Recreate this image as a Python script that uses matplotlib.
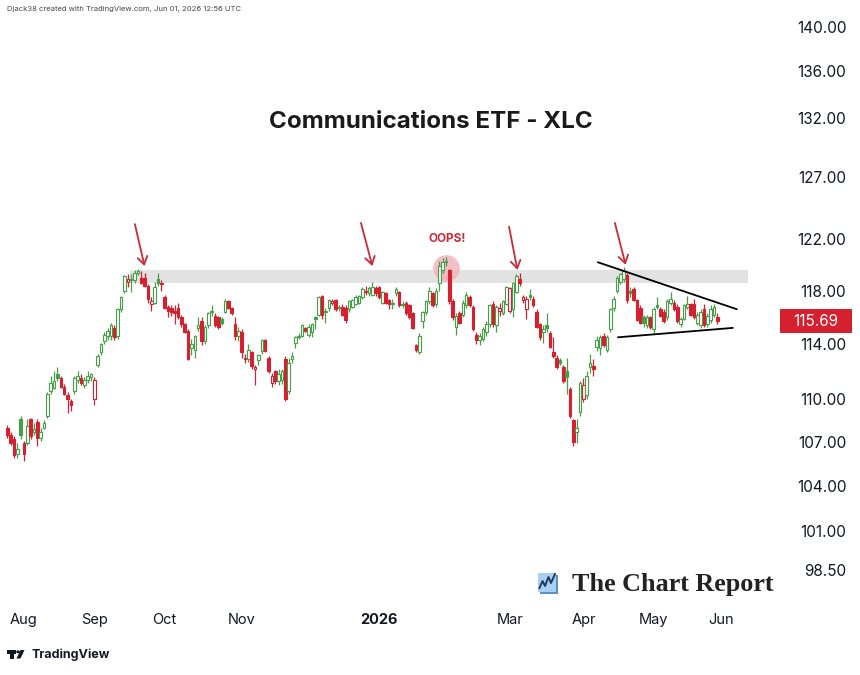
import numpy as np
import matplotlib
matplotlib.use("Agg")
import matplotlib.pyplot as plt
from matplotlib.patches import Rectangle, Polygon, Circle
from matplotlib.ticker import NullLocator, FixedLocator
from matplotlib.lines import Line2D

plt.rcParams['font.family'] = ['Inter', 'DejaVu Sans']

# ---------------- data (trading-day index, Aug 1 2025 = 0) ----------------
first_index = -5

opens = [
    108.0, 107.5, 107.2, 106.2, 108.6,
    106.9, 106.9, 108.6, 107.7, 108.4, 107.3, 108.0, 108.8, 110.6, 110.8, 111.8, 111.5, 110.9, 110.3, 109.9, 110.6, 111.4, 111.5, 111.0, 111.4, 111.6,
    110.0, 112.5, 113.4, 114.2, 114.6, 114.6, 115.2, 114.6, 116.6, 118.0, 118.7, 118.8, 118.8, 119.4, 119.0, 119.0, 118.4, 117.0, 117.1, 118.9, 118.6,
    117.5, 116.8, 116.7, 116.5, 116.7, 116.0, 115.5, 115.0, 113.7, 113.6, 115.2, 115.7, 114.2, 115.4, 116.4, 116.1, 116.0, 115.9, 116.4, 117.2, 116.7, 115.5, 114.6,
    114.9, 112.9, 112.9, 113.4, 112.2, 112.8, 113.5, 114.3, 113.0, 111.2, 112.0, 111.3, 111.4, 112.9, 110.6, 112.9, 114.1, 114.5, 114.6,
    115.2, 114.7, 114.9, 116.0, 116.2, 117.6, 116.4, 116.7, 117.1, 117.3, 116.7, 116.8, 116.7, 116.6, 116.8, 117.0, 117.1, 117.5, 117.9, 117.8, 117.7, 118.2,
    118.3, 117.1, 117.8, 117.3, 117.1, 117.8, 117.9, 117.0, 117.1, 116.9, 116.3, 113.9, 113.4, 115.7, 116.4, 117.2, 117.8, 117.0, 118.6, 119.6,
    120.2, 119.6, 117.2, 115.3, 116.3, 116.2, 116.9, 117.5, 116.8, 114.7, 114.3, 114.4, 114.9, 115.5, 117.0, 115.4, 116.5, 116.3, 117.0,
    116.5, 116.6, 117.9, 118.9, 117.3, 116.6, 117.7, 117.4, 116.4, 115.5, 114.9, 115.4, 114.8, 113.4, 113.0, 112.8, 112.3, 112.0, 110.7, 108.5, 107.7, 109.1,
    110.0, 110.3, 112.3, 112.4, 113.8, 113.7, 114.6, 113.6, 115.1, 116.7, 118.0, 118.7, 118.9, 119.2, 118.0, 118.1, 117.3, 116.7, 116.0, 115.4, 116.0,
    115.1, 116.9, 116.6, 116.4, 116.0, 117.1, 117.1, 116.8, 115.5, 115.9, 116.8, 117.0, 117.0, 115.6, 115.4, 116.6, 115.5, 115.8, 116.2, 116.0,
]
highs = [
    108.2, 107.7, 107.4, 106.9, 108.8,
    107.1, 108.6, 108.7, 108.3, 108.6, 108.0, 108.5, 110.5, 111.7, 112.0, 112.3, 111.7, 111.1, 110.5, 110.0, 111.7, 112.0, 111.8, 111.6, 112.0, 111.9,
    111.6, 113.3, 114.1, 114.9, 115.2, 115.6, 115.4, 116.7, 117.6, 119.2, 119.3, 119.3, 119.6, 119.7, 119.5, 119.4, 118.5, 117.5, 118.7, 119.4, 118.8,
    117.7, 116.9, 116.9, 116.9, 117.1, 116.2, 115.6, 115.1, 114.4, 114.7, 116.0, 116.0, 115.4, 116.4, 116.9, 116.3, 116.1, 116.0, 117.4, 117.3, 116.8, 116.0, 115.3,
    115.1, 113.3, 114.0, 113.5, 112.5, 113.3, 114.4, 114.4, 113.1, 111.9, 112.1, 112.2, 112.2, 113.1, 113.0, 113.4, 114.6, 114.8, 115.5,
    115.3, 115.5, 115.6, 116.1, 117.6, 117.7, 116.7, 117.4, 117.4, 117.4, 116.9, 117.0, 116.9, 117.3, 117.4, 117.7, 117.7, 118.3, 118.4, 118.4, 118.7, 118.4,
    118.4, 118.0, 117.9, 117.4, 117.4, 118.3, 118.0, 117.2, 117.2, 117.0, 116.4, 114.0, 114.8, 116.5, 117.3, 118.3, 117.9, 118.2, 120.3, 120.5,
    120.6, 119.7, 117.4, 116.3, 116.5, 117.3, 117.9, 117.7, 116.9, 114.9, 114.8, 115.3, 115.7, 117.0, 117.2, 116.9, 117.1, 117.3, 118.4,
    118.3, 118.7, 119.3, 119.4, 117.7, 117.6, 118.1, 117.6, 116.6, 115.6, 115.4, 116.3, 115.0, 114.5, 113.2, 113.0, 112.5, 113.0, 110.9, 108.6, 108.6, 111.3,
    111.5, 112.0, 113.3, 112.9, 114.6, 114.7, 114.8, 114.7, 116.7, 117.6, 119.1, 119.4, 119.8, 119.4, 118.3, 118.3, 117.4, 116.9, 116.2, 116.2, 116.1,
    116.8, 117.5, 116.8, 116.6, 117.4, 117.9, 117.3, 117.0, 116.0, 117.0, 117.6, 117.1, 117.4, 116.4, 116.6, 117.0, 116.3, 116.9, 117.0, 116.3,
]
lows = [
    107.3, 106.8, 105.9, 105.9, 107.2,
    105.7, 106.8, 107.2, 107.5, 106.7, 107.1, 107.9, 108.7, 110.4, 110.7, 111.3, 110.8, 110.3, 109.0, 109.2, 110.4, 111.2, 111.0, 110.8, 111.2, 111.3,
    109.6, 112.3, 113.2, 114.0, 114.3, 114.3, 114.3, 114.4, 116.4, 117.8, 118.3, 117.9, 118.6, 119.2, 118.5, 118.3, 117.1, 116.5, 117.0, 118.4, 118.0,
    116.6, 116.0, 116.1, 115.5, 115.9, 115.3, 114.8, 112.8, 113.2, 113.0, 115.0, 113.9, 114.0, 115.2, 116.1, 115.3, 115.1, 115.4, 116.3, 116.6, 116.2, 114.3, 114.2,
    113.0, 112.6, 112.7, 112.2, 111.0, 112.5, 113.3, 113.4, 111.9, 110.9, 111.1, 111.0, 111.1, 109.9, 110.4, 112.6, 113.7, 114.4, 114.5,
    114.9, 114.5, 114.5, 115.1, 116.1, 115.9, 115.6, 116.5, 116.9, 116.5, 116.5, 116.1, 115.6, 116.4, 116.7, 116.9, 117.0, 117.4, 117.7, 117.6, 117.6, 117.6,
    117.4, 117.0, 117.0, 116.6, 116.6, 117.6, 116.8, 116.7, 116.2, 115.9, 115.1, 113.4, 113.3, 115.2, 116.2, 117.0, 116.8, 116.8, 118.0, 119.4,
    119.9, 117.0, 115.8, 114.7, 115.5, 116.0, 116.7, 116.8, 115.0, 114.0, 113.9, 114.2, 114.6, 115.3, 115.3, 114.9, 116.1, 116.2, 116.9,
    116.3, 116.0, 117.8, 118.4, 117.1, 115.9, 117.3, 116.8, 115.2, 114.3, 114.1, 114.9, 113.7, 113.0, 112.2, 112.5, 111.2, 110.4, 108.7, 106.7, 106.9, 108.8,
    109.8, 110.0, 111.9, 111.7, 113.5, 113.2, 113.8, 113.4, 114.9, 116.5, 117.8, 118.5, 118.7, 117.1, 117.5, 117.2, 115.7, 115.5, 115.3, 115.2, 115.1,
    114.8, 116.6, 116.0, 115.6, 115.8, 116.9, 116.5, 115.6, 115.3, 115.8, 116.6, 116.1, 115.9, 115.4, 115.2, 115.3, 115.3, 115.6, 116.0, 115.5,
]
closes = [
    107.5, 106.9, 106.1, 106.5, 107.5,
    106.2, 108.1, 107.4, 107.9, 107.3, 107.7, 108.3, 110.4, 111.2, 111.3, 111.5, 110.9, 110.4, 110.0, 109.6, 111.5, 111.7, 111.2, 111.4, 111.7, 111.8,
    111.4, 113.1, 114.0, 114.7, 115.0, 115.4, 114.5, 116.6, 117.5, 119.1, 118.9, 118.9, 119.4, 119.5, 118.6, 118.4, 117.4, 117.2, 118.3, 118.6, 118.5,
    116.7, 116.5, 116.4, 116.3, 116.0, 115.5, 114.9, 112.9, 114.0, 114.6, 115.4, 114.2, 115.3, 116.3, 116.5, 115.4, 115.3, 115.6, 117.2, 116.7, 116.3, 114.6, 115.0,
    113.4, 113.0, 113.6, 112.4, 112.3, 113.2, 114.3, 113.5, 112.0, 111.7, 111.3, 111.8, 112.0, 110.0, 112.6, 113.1, 114.5, 114.6, 115.4,
    115.0, 115.3, 115.5, 115.9, 117.5, 116.2, 116.5, 117.3, 117.2, 116.6, 116.8, 116.2, 115.8, 117.2, 117.3, 117.5, 117.6, 118.1, 118.0, 118.2, 118.3, 117.8,
    117.5, 117.9, 117.1, 117.0, 117.0, 118.1, 116.9, 116.9, 116.3, 116.0, 115.2, 113.6, 114.6, 116.4, 117.2, 118.0, 116.9, 118.0, 119.9, 120.2,
    120.3, 117.2, 116.0, 116.1, 115.6, 117.1, 117.7, 116.9, 115.1, 114.3, 114.6, 115.1, 115.5, 116.9, 115.5, 116.8, 116.7, 117.2, 118.3,
    118.2, 118.6, 119.1, 118.6, 117.5, 117.4, 117.5, 116.9, 115.3, 114.5, 115.1, 115.2, 113.8, 113.1, 112.3, 112.6, 111.3, 111.6, 108.8, 107.0, 108.0, 111.2,
    111.0, 111.7, 112.6, 112.2, 114.3, 114.5, 113.9, 114.5, 116.6, 117.4, 119.0, 119.3, 119.5, 117.3, 117.8, 117.3, 115.8, 115.6, 115.6, 116.0, 115.3,
    116.6, 116.8, 116.1, 115.7, 117.2, 117.4, 116.6, 115.7, 115.9, 116.9, 117.0, 116.2, 116.0, 116.2, 116.4, 115.4, 116.1, 116.6, 116.8, 115.69,
]

month_labels = ['Aug', 'Sep', 'Oct', 'Nov', '2026', 'Mar', 'Apr', 'May', 'Jun']
month_starts = [0, 21, 42, 65, 106, 145, 167, 188, 208]
price_ticks = [98.5, 101, 104, 107, 110, 114, 118, 122, 127, 132, 136, 140]
last_price = 115.69

zone_low, zone_high = 118.6, 119.6
zone_x = [31.6, 216.0]
arrow_tails = [(33.1, 123.2), (100.6, 123.3), (144.8, 123.0), (176.4, 123.3)]
arrow_heads = [(36.0, 119.9), (104.0, 119.9), (147.3, 119.6), (179.6, 120.0)]
tri_upper_x, tri_upper_y = [171.3, 212.8], [120.2, 116.6]
tri_lower_x, tri_lower_y = [177.3, 211.6], [114.5, 115.2]
oops_point = (125.9, 119.76)

GREEN = '#43a047'
RED = '#d4202f'
ARROW = '#cc2936'
TXT = '#131722'

W, H = 860, 675
fig = plt.figure(figsize=(W / 100, H / 100), dpi=100)
fig.patch.set_facecolor('white')
ax = fig.add_axes([0, 75 / H, 772 / W, 580 / H])
ax.set_facecolor('white')
ax.set_yscale('log')
ax.set_xlim(-7.16, 223.3)
ax.set_ylim(96.6, 140.6)
for s in ax.spines.values():
    s.set_visible(False)

# resistance zone
ax.fill_between(zone_x, [zone_low] * 2, [zone_high] * 2, color='#e2e2e2', lw=0, zorder=1)

# oops circle
ax.scatter([oops_point[0]], [oops_point[1]], s=370, color='#f3b4bd', alpha=0.85, lw=0, zorder=2)
ax.text(oops_point[0] + 0.4, 122.0, 'OOPS!', color=ARROW, fontsize=8.5, fontweight='bold',
        ha='center', va='center', zorder=6)

# candles
xs = np.arange(len(closes)) + first_index
for k, x in enumerate(xs):
    o, h, l, c = opens[k], highs[k], lows[k], closes[k]
    prev = closes[k - 1] if k > 0 else o
    col = GREEN if c >= prev else RED
    filled = c < o
    ax.vlines(x, l, h, color=col, lw=0.9, zorder=3)
    bot, top = min(o, c), max(o, c)
    if top / bot < 1.0008:
        top = bot * 1.0008
    ax.bar(x, top - bot, bottom=bot, width=0.78, facecolor=col if filled else 'white',
           edgecolor=col, linewidth=0.8, zorder=4)

# arrows
for (tx, ty), (hx, hy) in zip(arrow_tails, arrow_heads):
    ax.annotate('', xy=(hx, hy), xytext=(tx, ty),
                arrowprops=dict(arrowstyle='->,head_length=0.55,head_width=0.35',
                                color=ARROW, lw=1.3, shrinkA=0, shrinkB=0), zorder=6)

# triangle
ax.plot(tri_upper_x, tri_upper_y, color='black', lw=1.3, zorder=5, solid_capstyle='round')
ax.plot(tri_lower_x, tri_lower_y, color='black', lw=1.3, zorder=5, solid_capstyle='round')

# axes ticks
ax.yaxis.tick_right()
ax.yaxis.set_major_locator(FixedLocator(price_ticks))
ax.yaxis.set_minor_locator(NullLocator())
ax.set_yticklabels([f'{p:.2f}' for p in price_ticks])
ax.tick_params(axis='y', length=0, pad=53.5, labelsize=11, labelcolor=TXT)
for t in ax.get_yticklabels():
    t.set_ha('right')
ax.set_xticks(month_starts)
ax.set_xticklabels(month_labels)
ax.xaxis.set_minor_locator(NullLocator())
ax.tick_params(axis='x', length=0, pad=9.5, labelsize=10.5, labelcolor=TXT)
for t in ax.get_xticklabels():
    if t.get_text() == '2026':
        t.set_fontweight('bold')

# last price label
fig.canvas.draw()
ypx = ax.transData.transform((0, last_price))[1]
fig.patches.append(Rectangle((780 / W, (ypx - 12) / H), 72 / W, 24 / H, transform=fig.transFigure,
                             facecolor=RED, edgecolor='none', zorder=5))
fig.text(816 / W, ypx / H, f'{last_price:.2f}', color='white', fontsize=11, ha='center', va='center', zorder=6)

# title
fig.text(431 / W, 1 - 122 / H, 'Communications ETF - XLC', fontsize=17.4, fontweight='bold',
         color='#1a1a1a', ha='center', va='center')

# top-left credit
fig.text(7 / W, 1 - 9 / H, 'Djack38 created with TradingView.com, Jun 01, 2026 12:56 UTC',
         fontsize=5.5, color='#444444', ha='left', va='center')

def P(x, y):
    return (x / W, 1 - y / H)

# TradingView logo
fig.patches.append(Polygon([P(7, 650), P(16, 650), P(16, 653.5), P(13.6, 653.5), P(13.6, 658.5),
                            P(10.2, 658.5), P(10.2, 653.5), P(7, 653.5)], closed=True,
                           transform=fig.transFigure, facecolor=TXT, edgecolor='none'))
fig.patches.append(Circle(P(18, 651.8), 1.8 / W, transform=fig.transFigure, facecolor=TXT, edgecolor='none'))
fig.patches.append(Polygon([P(20.5, 650), P(24.5, 650), P(20.5, 658.5), P(16.5, 658.5)], closed=True,
                           transform=fig.transFigure, facecolor=TXT, edgecolor='none'))
fig.text(32 / W, 1 - 654.5 / H, 'TradingView', fontsize=9, fontweight='bold', color=TXT,
         ha='left', va='center')

# The Chart Report logo
fig.patches.append(Rectangle(P(540, 594), 18 / W, 19 / H, transform=fig.transFigure,
                             facecolor='#5b8fc7', edgecolor='none'))
fig.patches.append(Rectangle(P(538, 592), 18 / W, 19 / H, transform=fig.transFigure,
                             facecolor='#a8d0f2', edgecolor='none'))
zz = [P(539.5, 588), P(542.5, 581), P(545, 586), P(548.5, 577), P(551, 583), P(555, 574)]
fig.lines.append(Line2D([p[0] for p in zz], [p[1] for p in zz], transform=fig.transFigure,
                        color='#1e3b64', lw=1.4))
fig.text(572 / W, 1 - 584 / H, 'The Chart Report', fontsize=18.8, fontweight='bold',
         family=['Liberation Serif', 'DejaVu Serif'], color='#222222', ha='left', va='center')

fig.savefig('out.png', dpi=100, facecolor='white')
